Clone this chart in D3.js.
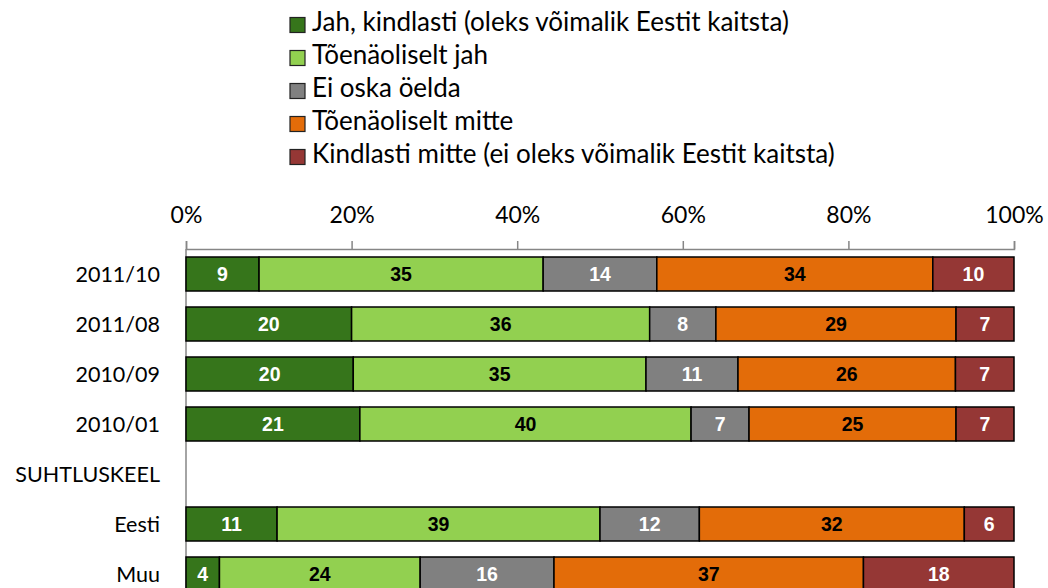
<!DOCTYPE html>
<html>
<head>
<meta charset="utf-8">
<script src="https://cdn.jsdelivr.net/npm/d3@7"></script>
<style>
  body { margin: 0; background: #fff; }
  svg text { font-family: Lato, "Open Sans", sans-serif; }
</style>
</head>
<body>
<div id="chart-area"></div>
<script>
// rows of the chart (SUHTLUSKEEL is a heading row with no bar)
const categories = ["2011/10", "2011/08", "2010/09", "2010/01", "SUHTLUSKEEL", "Eesti", "Muu"]
const seriesNames = [
  "Jah, kindlasti (oleks võimalik Eestit kaitsta)",
  "Tõenäoliselt jah",
  "Ei oska öelda",
  "Tõenäoliselt mitte",
  "Kindlasti mitte (ei oleks võimalik Eestit kaitsta)"
]
const jahKindlasti   = [9, 20, 20, 21, 0, 11, 4]
const toenJah        = [35, 36, 35, 40, 0, 39, 24]
const eiOska         = [14, 8, 11, 7, 0, 12, 16]
const toenMitte      = [34, 29, 26, 25, 0, 32, 37]
const kindlastiMitte = [10, 7, 7, 7, 0, 6, 18]
const tickValues = [0, 0.2, 0.4, 0.6, 0.8, 1]

const colors = ["#36751b", "#92d050", "#808080", "#e36c09", "#953735"]
const labelColors = ["#fff", "#000", "#fff", "#000", "#fff"]

const W = 1048, H = 588
const MARGIN = { LEFT: 186, RIGHT: 34, TOP: 249 }

const svg = d3.select("#chart-area").append("svg")
  .attr("width", W)
  .attr("height", H)

const allSeries = [jahKindlasti, toenJah, eiOska, toenMitte, kindlastiMitte]
const rows = categories.map((c, i) => {
  const r = { cat: c }
  seriesNames.forEach((s, k) => r[s] = allSeries[k][i])
  return r
})

const stacked = d3.stack()
  .keys(seriesNames)
  .offset(d3.stackOffsetExpand)(rows)

const x = d3.scaleLinear()
  .domain([0, 1])
  .range([MARGIN.LEFT, W - MARGIN.RIGHT])

const y = d3.scaleBand()
  .domain(categories)
  .range([MARGIN.TOP, MARGIN.TOP + 350])
  .paddingInner(0.32)
  .paddingOuter(0.16)

// legend
const legend = svg.append("g")
  .selectAll("g")
  .data(seriesNames)
  .enter().append("g")
  .attr("transform", (d, i) => `translate(290, ${25 + i * 33})`)

legend.append("rect")
  .attr("x", 0)
  .attr("y", -7.5)
  .attr("width", 15)
  .attr("height", 15)
  .attr("fill", (d, i) => colors[i])
  .attr("stroke", "#222")
  .attr("stroke-width", 1.2)

legend.append("text")
  .attr("x", 22)
  .attr("dy", "0.22em")
  .attr("font-size", 26)
  .attr("fill", "#000")
  .text(d => d)

// top axis
const axis = svg.append("g")
  .attr("transform", `translate(0, ${MARGIN.TOP})`)
  .call(d3.axisTop(x).tickValues(tickValues).tickFormat(d3.format(".0%")).tickSize(8).tickPadding(18))

axis.select(".domain").attr("stroke", "#868686").attr("stroke-width", 1.5)
axis.selectAll(".tick line").attr("stroke", "#868686").attr("stroke-width", 1.5)
axis.selectAll(".tick text")
  .attr("font-size", 23)
  .attr("fill", "#000")
  .style("font-family", "Lato, 'Open Sans', sans-serif")

// left axis line
svg.append("line")
  .attr("x1", x(0)).attr("x2", x(0))
  .attr("y1", MARGIN.TOP).attr("y2", H)
  .attr("stroke", "#868686")
  .attr("stroke-width", 1.5)

// category labels
svg.append("g")
  .selectAll("text")
  .data(categories)
  .enter().append("text")
  .attr("x", 160)
  .attr("y", d => y(d) + y.bandwidth() / 2)
  .attr("dy", "0.35em")
  .attr("text-anchor", "end")
  .attr("font-size", 21.5)
  .attr("fill", "#000")
  .text(d => d)

// bars
const layers = svg.selectAll(".layer")
  .data(stacked)
  .enter().append("g")
  .attr("class", "layer")

layers.selectAll("rect")
  .data(d => d.filter(s => s[1] > s[0]))
  .enter().append("rect")
  .attr("x", d => x(d[0]))
  .attr("y", d => y(d.data.cat))
  .attr("width", d => x(d[1]) - x(d[0]))
  .attr("height", y.bandwidth())
  .attr("fill", function () { return colors[d3.select(this.parentNode).datum().index] })
  .attr("stroke", "#000")
  .attr("stroke-width", 1.5)

layers.selectAll("text")
  .data(d => d.filter(s => s[1] > s[0]).map(s => ({ s, key: d.key, index: d.index })))
  .enter().append("text")
  .attr("x", d => (x(d.s[0]) + x(d.s[1])) / 2)
  .attr("y", d => y(d.s.data.cat) + y.bandwidth() / 2)
  .attr("dy", "0.36em")
  .attr("text-anchor", "middle")
  .attr("font-size", 19.5)
  .attr("font-weight", "bold")
  .style("font-family", "'Liberation Sans', Arial, sans-serif")
  .attr("fill", d => labelColors[d.index])
  .text(d => d.s.data[d.key])
</script>
</body>
</html>
